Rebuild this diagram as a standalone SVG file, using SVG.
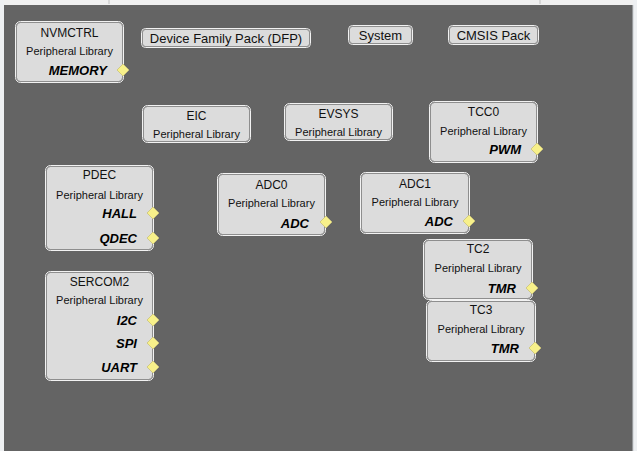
<svg xmlns="http://www.w3.org/2000/svg" width="637" height="451" viewBox="0 0 637 451">
<style>
.box{fill:#dcdcdc;stroke:#8e8e8e;stroke-width:1}
.rim{fill:none;stroke:#f2f2f2;stroke-width:1}
.t{font-family:"Liberation Sans",Arial,sans-serif;font-size:12px;fill:#111;text-anchor:middle}
.pl{font-family:"Liberation Sans",Arial,sans-serif;font-size:11px;fill:#111;text-anchor:middle}
.p{font-family:"Liberation Sans",Arial,sans-serif;font-size:13px;font-weight:bold;font-style:italic;fill:#000;text-anchor:end}
.b{font-family:"Liberation Sans",Arial,sans-serif;font-size:13px;fill:#111;text-anchor:middle}
.d{fill:#f7f08a;stroke:#c9c27a;stroke-width:0.8}
</style>
<defs>
<path id="dia" d="M0,-6 L6,0 L0,6 L-6,0 Z" class="d"/>
</defs>
<rect x="0" y="0" width="637" height="451" fill="#646464"/>
<rect x="0" y="0" width="637" height="5" fill="#f0f0f0"/>
<rect x="0" y="0" width="4" height="451" fill="#eef0f2"/>
<rect x="633" y="0" width="4" height="451" fill="#eef0f2"/>
<line x1="633" y1="5" x2="633" y2="451" stroke="#c8ccd0" stroke-width="1"/>
<line x1="109" y1="0" x2="109" y2="4" stroke="#c0c0c0"/>
<line x1="540" y1="0" x2="540" y2="4" stroke="#c0c0c0"/>

<g id="connectors"></g>

<g id="nvmctrl">
<rect class="rim" x="15.5" y="21.5" width="108" height="61" rx="5"/>
<rect class="box" x="16.5" y="22.5" width="106" height="59" rx="4"/>
<text class="t" x="69.5" y="37">NVMCTRL</text>
<text class="pl" x="69.5" y="55">Peripheral Library</text>
<text class="p" x="107" y="74.5">MEMORY</text>
<use href="#dia" x="123" y="70"/>
</g>

<g id="dfp">
<rect class="rim" x="141.5" y="28.5" width="169" height="19" rx="4"/>
<rect class="box" x="142.5" y="29.5" width="167" height="17" rx="3"/>
<text class="b" x="226" y="43">Device Family Pack (DFP)</text>
</g>

<g id="system">
<rect class="rim" x="348.5" y="25.5" width="64" height="19" rx="4"/>
<rect class="box" x="349.5" y="26.5" width="62" height="17" rx="3"/>
<text class="b" x="380.5" y="40">System</text>
</g>

<g id="cmsis">
<rect class="rim" x="448.5" y="25.5" width="90" height="19" rx="4"/>
<rect class="box" x="449.5" y="26.5" width="88" height="17" rx="3"/>
<text class="b" x="493.5" y="40">CMSIS Pack</text>
</g>

<g id="eic">
<rect class="rim" x="142.5" y="105.5" width="108" height="37" rx="5"/>
<rect class="box" x="143.5" y="106.5" width="106" height="35" rx="4"/>
<text class="t" x="196.5" y="120">EIC</text>
<text class="pl" x="196.5" y="138">Peripheral Library</text>
</g>

<g id="evsys">
<rect class="rim" x="284.5" y="103.5" width="108" height="37" rx="5"/>
<rect class="box" x="285.5" y="104.5" width="106" height="35" rx="4"/>
<text class="t" x="338.5" y="118">EVSYS</text>
<text class="pl" x="338.5" y="136">Peripheral Library</text>
</g>

<g id="tcc0">
<rect class="rim" x="429.5" y="101.5" width="108" height="61" rx="5"/>
<rect class="box" x="430.5" y="102.5" width="106" height="59" rx="4"/>
<text class="t" x="483.5" y="116">TCC0</text>
<text class="pl" x="483.5" y="135">Peripheral Library</text>
<text class="p" x="521" y="153.5">PWM</text>
<use href="#dia" x="537" y="149"/>
</g>

<g id="pdec">
<rect class="rim" x="45.5" y="165.5" width="108" height="85" rx="5"/>
<rect class="box" x="46.5" y="166.5" width="106" height="83" rx="4"/>
<text class="t" x="99.5" y="179">PDEC</text>
<text class="pl" x="99.5" y="198.5">Peripheral Library</text>
<text class="p" x="137" y="217.5">HALL</text>
<use href="#dia" x="153" y="213"/>
<text class="p" x="137" y="242.5">QDEC</text>
<use href="#dia" x="153" y="238"/>
</g>

<g id="adc0">
<rect class="rim" x="217.5" y="173.5" width="108" height="62" rx="5"/>
<rect class="box" x="218.5" y="174.5" width="106" height="60" rx="4"/>
<text class="t" x="271.5" y="189">ADC0</text>
<text class="pl" x="271.5" y="207">Peripheral Library</text>
<text class="p" x="309" y="227.5">ADC</text>
<use href="#dia" x="326" y="222"/>
</g>

<g id="adc1">
<rect class="rim" x="360.5" y="172.5" width="109" height="61" rx="5"/>
<rect class="box" x="361.5" y="173.5" width="107" height="59" rx="4"/>
<text class="t" x="415" y="188">ADC1</text>
<text class="pl" x="415" y="206">Peripheral Library</text>
<text class="p" x="453" y="226">ADC</text>
<use href="#dia" x="469" y="221"/>
</g>

<g id="tc2">
<rect class="rim" x="423.5" y="239.5" width="109" height="60" rx="5"/>
<rect class="box" x="424.5" y="240.5" width="107" height="58" rx="4"/>
<text class="t" x="478" y="253">TC2</text>
<text class="pl" x="478" y="272">Peripheral Library</text>
<text class="p" x="516" y="292.5">TMR</text>
<use href="#dia" x="532" y="288"/>
</g>

<g id="tc3">
<rect class="rim" x="426.5" y="300.5" width="109" height="61" rx="5"/>
<rect class="box" x="427.5" y="301.5" width="107" height="59" rx="4"/>
<text class="t" x="481" y="314">TC3</text>
<text class="pl" x="481" y="333">Peripheral Library</text>
<text class="p" x="519" y="352.5">TMR</text>
<use href="#dia" x="535" y="348"/>
</g>

<g id="sercom2">
<rect class="rim" x="45.5" y="271.5" width="108" height="109" rx="5"/>
<rect class="box" x="46.5" y="272.5" width="106" height="107" rx="4"/>
<text class="t" x="99.5" y="286">SERCOM2</text>
<text class="pl" x="99.5" y="304">Peripheral Library</text>
<text class="p" x="137" y="324.5">I2C</text>
<use href="#dia" x="153" y="320"/>
<text class="p" x="137" y="347.5">SPI</text>
<use href="#dia" x="153" y="343"/>
<text class="p" x="137" y="371.5">UART</text>
<use href="#dia" x="153" y="367"/>
</g>
</svg>
